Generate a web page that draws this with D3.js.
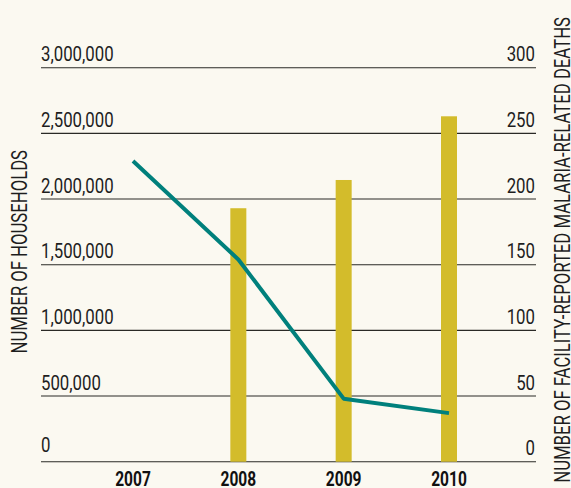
<!DOCTYPE html>
<html>
<head>
<meta charset="utf-8">
<script src="https://cdn.jsdelivr.net/npm/d3@7"></script>
<style>
  html, body { margin: 0; padding: 0; background: #fbf9f1; }
  svg { display: block; }
  text { font-family: Roboto, "Liberation Sans", sans-serif; fill: #1e1e1e; }
</style>
</head>
<body>
<svg id="chart" width="571" height="488"></svg>
<script>
// Years on the horizontal axis
const years = ["2007", "2008", "2009", "2010"];
// Households (left axis) – bars
const households = [null, 1930000, 2145000, 2630000];
// Facility-reported malaria-related deaths (right axis) – line
const deaths = [229, 154, 48, 37];
// Tick values for both axes
const leftTicks = [0, 500000, 1000000, 1500000, 2000000, 2500000, 3000000];
const rightTicks = [0, 50, 100, 150, 200, 250, 300];

const svg = d3.select("#chart");
const gridLeft = 41, gridRight = 536;
const sx = 0.8; // horizontal squeeze for a condensed look

const x = d3.scalePoint().domain(years).range([133, 449]);
const yL = d3.scaleLinear().domain([0, 3000000]).range([461.7, 67.7]);
const yR = d3.scaleLinear().domain([0, 300]).range([461.7, 67.7]);

// Horizontal grid lines
svg.append("g")
  .selectAll("line")
  .data(leftTicks)
  .join("line")
  .attr("x1", gridLeft)
  .attr("x2", gridRight)
  .attr("y1", d => yL(d))
  .attr("y2", d => yL(d))
  .attr("stroke", "#2a2a26")
  .attr("stroke-width", 1.1);

// Bars
const barW = 16;
svg.append("g")
  .selectAll("rect")
  .data(years.map((y, i) => ({ year: y, v: households[i] })).filter(d => d.v != null))
  .join("rect")
  .attr("x", d => x(d.year) - barW / 2)
  .attr("width", barW)
  .attr("y", d => yL(d.v))
  .attr("height", d => yL(0) - yL(d.v))
  .attr("fill", "#d3bc2b");

// Deaths line
const line = d3.line()
  .x((d, i) => x(years[i]))
  .y(d => yR(d));
svg.append("path")
  .datum(deaths)
  .attr("d", line)
  .attr("fill", "none")
  .attr("stroke", "#00807c")
  .attr("stroke-width", 4)
  .attr("stroke-linejoin", "round");

// Left tick labels
const fmt = d3.format(",");
svg.append("g")
  .selectAll("text")
  .data(leftTicks)
  .join("text")
  .attr("transform", d => `translate(${gridLeft},${yL(d) - (d === 0 ? 10 : 6.5)}) scale(${sx},1)`)
  .attr("font-size", 21)
  .text(d => fmt(d));

// Right tick labels
svg.append("g")
  .selectAll("text")
  .data(rightTicks)
  .join("text")
  .attr("transform", d => `translate(535,${yR(d) - 6.5}) scale(${sx},1)`)
  .attr("text-anchor", "end")
  .attr("font-size", 21)
  .text(d => d);

// Year labels
svg.append("g")
  .selectAll("text")
  .data(years)
  .join("text")
  .attr("transform", d => `translate(${x(d)},486) scale(0.74,1)`)
  .attr("text-anchor", "middle")
  .attr("font-size", 21)
  .attr("font-weight", "bold")
  .style("fill", "#111")
  .text(d => d);

// Axis titles
svg.append("text")
  .attr("transform", `translate(27,251.7) rotate(-90) scale(0.76,1)`)
  .attr("text-anchor", "middle")
  .attr("font-size", 22)
  .text("NUMBER OF HOUSEHOLDS");

svg.append("text")
  .attr("transform", `translate(570,17) rotate(-90) scale(0.76,1)`)
  .attr("text-anchor", "end")
  .attr("font-size", 22)
  .text("NUMBER OF FACILITY-REPORTED MALARIA-RELATED DEATHS");
</script>
</body>
</html>
